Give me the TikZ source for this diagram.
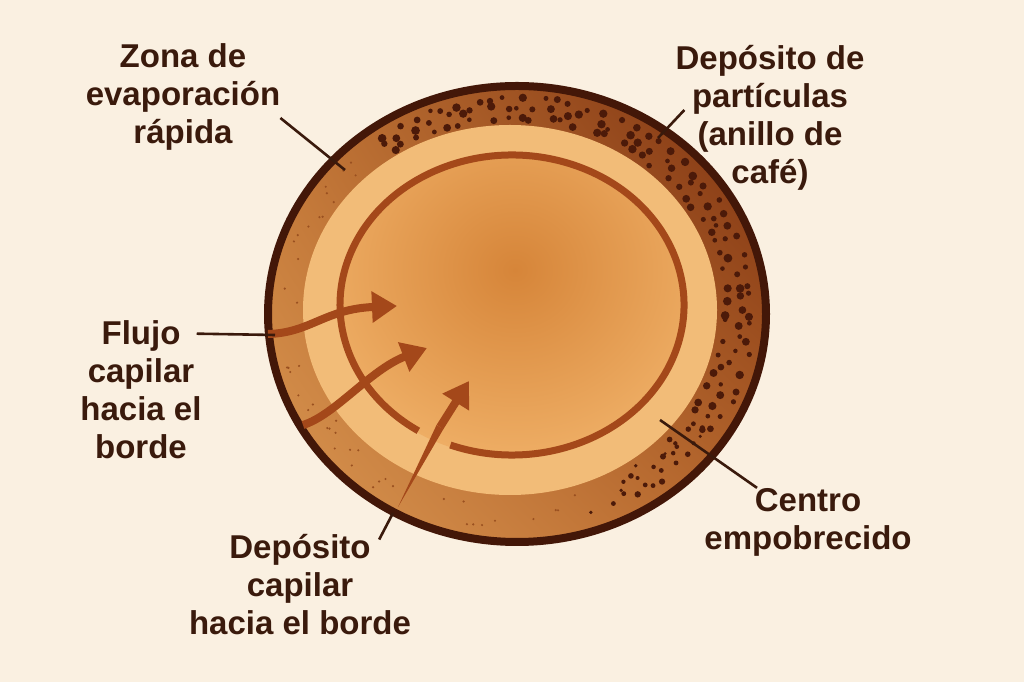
\documentclass[tikz,border=0pt]{standalone}
\usepackage{fontspec}
\setmainfont{Liberation Sans}
\usetikzlibrary{arrows.meta}
\usetikzlibrary{shadings}
\definecolor{paper}{HTML}{FAF0E1}
\definecolor{ink}{HTML}{3A1A0C}
\definecolor{rimline}{HTML}{431708}
\definecolor{flowcol}{HTML}{A4481A}
\definecolor{band}{HTML}{F2BC78}
\definecolor{core}{HTML}{D68539}
\definecolor{coreedge}{HTML}{EFAF66}
\definecolor{rimul}{HTML}{C27535}
\definecolor{rimur}{HTML}{7C300F}
\definecolor{rimll}{HTML}{DA9752}
\definecolor{rimlr}{HTML}{B7672C}
\definecolor{speckcol}{HTML}{4C1A09}
\definecolor{finecol}{HTML}{9A5020}
\tikzset{
lbl/.style = {align=center, text=ink, inner sep=0pt,
              font=\fontsize{33}{38}\selectfont\bfseries},
leader/.style = {draw=ink, line width=2.6pt},
flow/.style = {draw=flowcol, line width=8pt,
               -{Triangle[length=25pt,width=30pt]}},
speck/.style = {fill=speckcol},
}
\begin{document}
\begin{tikzpicture}[x=1pt,y=1pt]
    \useasboundingbox (0,0) rectangle (1024,682);
    \fill[paper] (0,0) rectangle (1024,682);

    % rim of the drop
    \shade[upper right=rimur, upper left=rimul, lower left=rimll, lower right=rimlr]
        (517,368) ellipse [x radius=249, y radius=228];
    \fill[band] (510,372) ellipse [x radius=207, y radius=185];
    \begin{scope}
        \clip (512,377) ellipse [x radius=174, y radius=152];
        \shade[inner color=core, outer color=coreedge]
            (515,412) ellipse [x radius=210, y radius=195];
    \end{scope}

    % particles in the ring
    \pgfmathsetseed{17}
    \foreach \t in {-32,-28,...,124}{
        \foreach \f in {0.22,0.5,0.78}{
            \pgfmathsetmacro\tt{\t+3*(rnd-0.5)}
            \pgfmathsetmacro\ff{\f+0.16*(rnd-0.5)}
            \pgfmathsetmacro\r{2.2+2.2*rnd}
            \pgfmathsetmacro\px{510+207*cos(\tt)+\ff*(7+37*cos(\tt))}
            \pgfmathsetmacro\py{372+185*sin(\tt)+\ff*(-4+38*sin(\tt))}
            \fill[speck] (\px,\py) circle [radius=\r];
        }
    }
    \foreach \i in {1,...,28}{
        \pgfmathsetmacro\t{-72+40*rnd}
        \pgfmathsetmacro\f{0.15+0.7*rnd}
        \pgfmathsetmacro\r{1.6+1.8*rnd}
        \pgfmathsetmacro\px{510+207*cos(\t)+\f*(7+37*cos(\t))}
        \pgfmathsetmacro\py{372+185*sin(\t)+\f*(-4+38*sin(\t))}
        \fill[speck] (\px,\py) circle [radius=\r];
    }
    \foreach \i in {1,...,45}{
        \pgfmathsetmacro\t{128+160*rnd}
        \pgfmathsetmacro\f{0.15+0.7*rnd}
        \pgfmathsetmacro\px{510+207*cos(\t)+\f*(7+37*cos(\t))}
        \pgfmathsetmacro\py{372+185*sin(\t)+\f*(-4+38*sin(\t))}
        \fill[finecol] (\px,\py) circle [radius=1.2];
    }
    \draw[rimline, line width=8pt] (517,368) ellipse [x radius=249, y radius=228];

    % inner circulation
    \draw[flowcol, line width=7pt] (512,377) ++(249:172 and 150)
        arc [start angle=249, end angle=597, x radius=172, y radius=150];

    % capillary flow arrows
    \coordinate (f1s) at (268,348);
    \coordinate (f1e) at (397,376);
    \coordinate (f2s) at (303,257);
    \coordinate (f2e) at (427,334);
    \coordinate (f3s) at (398,175);
    \coordinate (f3m) at (440,255);
    \coordinate (f3e) at (469,301);
    \draw[flow] (f1s) .. controls (310,349) and (325,373) .. (f1e);
    \draw[flow] (f2s) .. controls (335,267) and (370,312) .. (f2e);
    \fill[flowcol] (f3s) -- (443.5,253.1) -- (436.5,256.9) -- cycle;
    \draw[flow] (f3m) -- (f3e);

    % labels
    \node[lbl] (zona) at (183,585) {Zona de\\evaporación\\rápida};
    \node[lbl] (anillo) at (770,564) {Depósito de\\partículas\\(anillo de\\café)};
    \node[lbl] (flujo) at (141,292) {Flujo\\capilar\\hacia el\\borde};
    \node[lbl] (capilar) at (300,97) {Depósito\\capilar\\hacia el borde};
    \node[lbl] (centro) at (808,160) {Centro\\empobrecido};

    \coordinate (zonapt) at (345,512);
    \coordinate (anillopt) at (658,544);
    \coordinate (flujopt) at (275,347);
    \coordinate (capilarpt) at (393,169);
    \coordinate (centropt) at (660,262);
    \draw[leader] ([yshift=-21pt]zona.east) -- (zonapt);
    \draw[leader] ([xshift=9pt,yshift=8pt]anillo.west) -- (anillopt);
    \draw[leader] ([xshift=-5pt,yshift=-13pt]flujo.north east) -- (flujopt);
    \draw[leader] ([xshift=-32pt,yshift=-5pt]capilar.north east) -- (capilarpt);
    \draw[leader] ([xshift=-51pt]centro.north) -- (centropt);
\end{tikzpicture}
\end{document}
